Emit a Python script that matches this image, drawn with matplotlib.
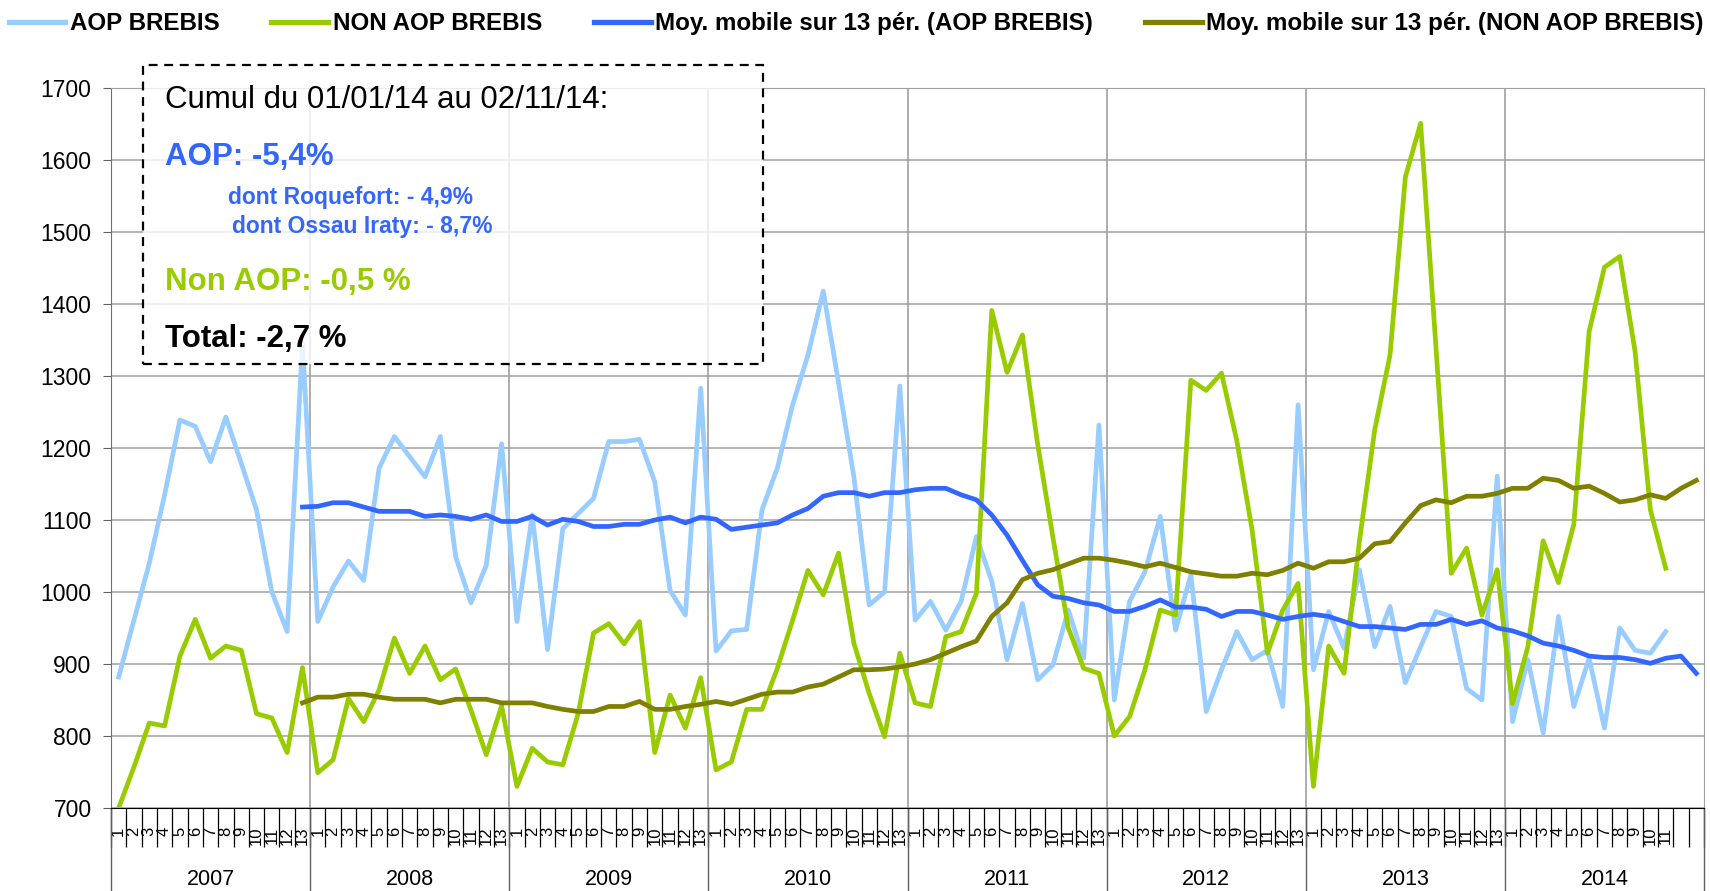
import numpy as np
import matplotlib
matplotlib.use("Agg")
import matplotlib.pyplot as plt
from matplotlib.patches import Rectangle
from matplotlib.lines import Line2D
from matplotlib.font_manager import FontProperties

plt.rcParams['font.family'] = ['Liberation Sans', 'DejaVu Sans']

# weekly-period data (13 periods per year)
years = ['2007', '2008', '2009', '2010', '2011', '2012', '2013', '2014']
periods_per_year = 13
periods_2014 = 11

aop_brebis = [
    882, 961, 1040, 1135, 1239, 1230, 1181, 1243, 1179, 1114, 1000, 945, 1345,
    959, 1007, 1043, 1016, 1172, 1216, 1188, 1160, 1216, 1049, 985, 1037, 1206,
    959, 1107, 920, 1088, 1109, 1130, 1209, 1209, 1212, 1153, 1002, 968, 1283,
    918, 946, 948, 1114, 1172, 1260, 1329, 1418, 1290, 1160, 982, 1000, 1286,
    961, 987, 947, 987, 1077, 1015, 906, 984, 878, 899, 975, 908, 1232,
    850, 987, 1028, 1105, 947, 1024, 834, 892, 945, 906, 919, 841, 1260,
    892, 973, 922, 1031, 924, 980, 874, 924, 973, 966, 866, 850, 1161,
    820, 906, 804, 966, 841, 908, 811, 950, 919, 915, 945,
]

non_aop_brebis = [
    700, 757, 818, 814, 911, 962, 908, 925, 919, 831, 825, 777, 895,
    749, 767, 852, 820, 864, 936, 887, 925, 878, 893, 836, 774, 842,
    730, 783, 764, 760, 831, 943, 956, 928, 959, 777, 857, 811, 881,
    753, 764, 837, 837, 894, 961, 1030, 996, 1054, 929, 859, 799, 915,
    846, 841, 938, 945, 998, 1391, 1305, 1357, 1205, 1075, 950, 894, 887,
    800, 827, 892, 975, 968, 1294, 1280, 1304, 1210, 1086, 915, 975, 1012,
    730, 925, 887, 1070, 1225, 1329, 1576, 1651, 1340, 1026, 1061, 968, 1031,
    845, 924, 1071, 1013, 1094, 1362, 1451, 1466, 1334, 1114, 1033,
]

# moving averages start at period 13 of 2007
mm_aop = [
    1118,
    1119, 1124, 1124, 1118, 1112, 1112, 1112, 1105, 1107, 1105, 1101, 1107, 1098,
    1098, 1105, 1093, 1101, 1098, 1091, 1091, 1094, 1094, 1100, 1104, 1096, 1104,
    1101, 1087, 1090, 1093, 1096, 1107, 1116, 1133, 1138, 1138, 1133, 1138, 1138,
    1142, 1144, 1144, 1135, 1128, 1107, 1079, 1044, 1010, 994, 991, 985, 982,
    973, 973, 980, 989, 979, 979, 976, 966, 973, 973, 968, 962, 966,
    969, 966, 959, 952, 952, 950, 948, 955, 955, 962, 955, 960, 950,
    946, 939, 929, 925, 919, 911, 909, 909, 906, 901, 908, 911, 887,
]

mm_non_aop = [
    846,
    854, 854, 858, 858, 854, 851, 851, 851, 846, 851, 851, 851, 846,
    846, 846, 841, 837, 834, 834, 841, 841, 848, 837, 837, 841, 844,
    848, 844, 851, 858, 861, 861, 868, 872, 882, 892, 892, 893, 896,
    900, 906, 915, 924, 932, 966, 985, 1017, 1026, 1031, 1039, 1047, 1047,
    1044, 1040, 1035, 1040, 1034, 1028, 1025, 1022, 1022, 1026, 1024, 1030, 1040,
    1033, 1042, 1042, 1047, 1067, 1070, 1096, 1120, 1128, 1124, 1133, 1133, 1137,
    1144, 1144, 1158, 1155, 1144, 1147, 1137, 1125, 1128, 1135, 1130, 1144, 1155,
]

series_names = ['AOP BREBIS', 'NON AOP BREBIS',
                'Moy. mobile sur 13 pér. (AOP BREBIS)',
                'Moy. mobile sur 13 pér. (NON AOP BREBIS)']
series_colors = ['#99CCFF', '#99CC00', '#3366FF', '#808000']

n_slots = len(years) * periods_per_year
tick_labels = []
for y in years:
    n = periods_2014 if y == '2014' else periods_per_year
    tick_labels += [str(p) for p in range(1, n + 1)] + [''] * (periods_per_year - n)

W, H = 1710, 891
fig = plt.figure(figsize=(W / 100, H / 100), dpi=100)
ax = fig.add_axes([111 / W, 83 / H, 1593 / W, 720 / H])

lw = 3.4
ax.plot(np.arange(len(aop_brebis)), aop_brebis, color=series_colors[0], lw=lw, zorder=3)
ax.plot(np.arange(len(non_aop_brebis)), non_aop_brebis, color=series_colors[1], lw=lw, zorder=3)
x_mm = np.arange(12, 12 + len(mm_aop))
ax.plot(x_mm, mm_aop, color=series_colors[2], lw=lw, zorder=4)
ax.plot(np.arange(12, 12 + len(mm_non_aop)), mm_non_aop, color=series_colors[3], lw=lw, zorder=4)

ax.set_xlim(-0.5, n_slots - 0.5)
ax.set_ylim(700, 1700)
ax.set_yticks(range(700, 1701, 100))
ax.grid(axis='y', color='#a0a0a0', lw=1.1, zorder=0)
ax.tick_params(axis='y', labelsize=16.5, length=6, pad=8, color='#606060')

# category axis: period labels, boundary ticks, year separators
ax.set_xticks(np.arange(n_slots))
ax.set_xticklabels(tick_labels, rotation=90, fontsize=12, va='top', ha='center')
ax.tick_params(axis='x', which='major', length=0, pad=13.5)
ax.set_xticks(np.arange(n_slots + 1) - 0.5, minor=True)
ax.tick_params(axis='x', which='minor', length=28, width=0.9, color='black')

xt = ax.get_xaxis_transform()
for k in range(len(years) + 1):
    xb = k * periods_per_year - 0.5
    if 0 < k < len(years):
        ax.axvline(xb, color='#a0a0a0', lw=1.2, zorder=0)
    ax.plot([xb, xb], [0, -83 / 720], transform=xt, clip_on=False,
            color='#606060', lw=1.0)
for k, y in enumerate(years):
    ax.text(k * periods_per_year + 6, -77 / 720, y, transform=xt,
            ha='center', va='baseline', fontsize=15.5)

for side in ['top', 'right']:
    ax.spines[side].set_color('#a0a0a0')
ax.spines['left'].set_color('#707070')
ax.spines['bottom'].set_color('black')

# legend
handles = [Line2D([], [], color=c, lw=3.8) for c in series_colors]
fig.legend(handles, series_names, loc='upper center', bbox_to_anchor=(856 / W, 1 - 12 / H),
           ncol=4, frameon=False,
           prop=FontProperties(family=['Liberation Sans', 'DejaVu Sans'],
                               weight='bold', size=17.4),
           handlelength=2.35, handletextpad=0.18, columnspacing=2.15,
           borderaxespad=0.0, borderpad=0.0)

# comment box
box = Rectangle((143 / W, 1 - 364 / H), (763 - 143) / W, (364 - 65) / H,
                transform=fig.transFigure, facecolor=(1, 1, 1, 0.8),
                edgecolor='black', lw=1.6, ls=(0, (4, 3)), zorder=5)
fig.add_artist(box)

def box_text(x, y, s, **kw):
    fig.text(x / W, 1 - y / H, s, va='baseline', ha='left', zorder=6, **kw)

box_text(165, 108, 'Cumul du 01/01/14 au 02/11/14:', fontsize=22.5, color='black')
box_text(165, 165, 'AOP: -5,4%', fontsize=22.5, fontweight='bold', color='#3366FF')
box_text(228, 204, 'dont Roquefort: - 4,9%', fontsize=16.5, fontweight='bold', color='#3366FF')
box_text(232, 233, 'dont Ossau Iraty: - 8,7%', fontsize=16.5, fontweight='bold', color='#3366FF')
box_text(165, 290, 'Non AOP: -0,5 %', fontsize=22.5, fontweight='bold', color='#99CC00')
box_text(165, 347, 'Total: -2,7 %', fontsize=22.5, fontweight='bold', color='black')

fig.savefig('out.png', dpi=100)
